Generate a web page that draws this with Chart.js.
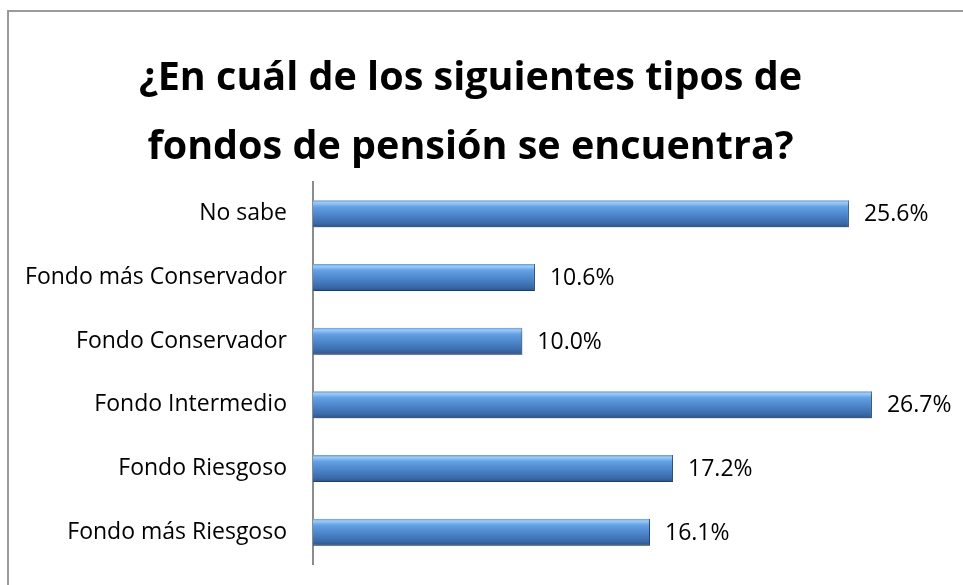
<!DOCTYPE html>
<html>
<head>
<meta charset="utf-8">
<script src="https://cdn.jsdelivr.net/npm/chart.js@4.4.1/dist/chart.umd.min.js"></script>
<style>
  html, body { margin: 0; background: #fff; overflow: hidden; }
  #wrap { position: absolute; left: 0; top: 0; width: 963px; height: 585px; }
  #frame { position: absolute; left: 7px; top: 10px; width: 1100px; height: 700px;
           border-left: 2px solid #9a9a9a; border-top: 2px solid #9a9a9a; }
</style>
</head>
<body>
<div id="frame"></div>
<div id="wrap"><canvas id="chart" width="963" height="585"></canvas></div>
<script>
// chart data
var categories = ['No sabe', 'Fondo más Conservador', 'Fondo Conservador', 'Fondo Intermedio', 'Fondo Riesgoso', 'Fondo más Riesgoso'];
var percentValues = [25.6, 10.6, 10.0, 26.7, 17.2, 16.1];
var titleLines = ['¿En cuál de los siguientes tipos de', 'fondos de pensión se encuentra?'];

var FONT = '"Open Sans", Lato, sans-serif';

// vertical gradient per bar, built from the y scale
function barFill(c) {
    var chart = c.chart;
    var ys = chart.scales.y;
    if (!ys || c.dataIndex == null) return '#4a86c8';
    var mid = ys.getPixelForValue(c.dataIndex);
    if (!isFinite(mid)) return '#4a86c8';
    var half = 14;
    var g = chart.ctx.createLinearGradient(0, mid - half, 0, mid + half);
    g.addColorStop(0, '#5490d6');
    g.addColorStop(0.1, '#9ecbf5');
    g.addColorStop(0.25, '#63a0e4');
    g.addColorStop(0.6, '#4880c4');
    g.addColorStop(0.85, '#3968a6');
    g.addColorStop(1, '#2a4d7e');
    return g;
}

// shadow under bars + value labels
var barExtras = {
    id: 'barExtras',
    beforeDatasetsDraw: function(chart) {
        var ctx = chart.ctx;
        ctx.save();
        ctx.shadowColor = 'rgba(0,0,0,0.35)';
        ctx.shadowBlur = 4;
        ctx.shadowOffsetX = 1;
        ctx.shadowOffsetY = 3;
    },
    afterDatasetsDraw: function(chart) {
        var ctx = chart.ctx;
        ctx.restore();
        ctx.save();
        ctx.font = '23px ' + FONT;
        ctx.fillStyle = '#000';
        ctx.textAlign = 'left';
        ctx.textBaseline = 'middle';
        chart.getDatasetMeta(0).data.forEach(function(bar, i) {
            ctx.fillText(percentValues[i].toFixed(1) + '%', bar.x + 15, bar.y + 1);
        });
        ctx.restore();
    }
};

var ctx = document.getElementById('chart').getContext('2d');
var chart = new Chart(ctx, {
    type: 'bar',
    data: {
        labels: categories,
        datasets: [{
            data: percentValues,
            backgroundColor: barFill,
            borderColor: '#2c5a92',
            borderWidth: { top: 0, bottom: 1, right: 1, left: 0 },
            barPercentage: 0.9,
            categoryPercentage: 0.47
        }]
    },
    plugins: [barExtras],
    options: {
        indexAxis: 'y',
        responsive: false,
        animation: false,
        layout: { padding: { left: 0, right: 22, top: 0, bottom: 21 } },
        plugins: {
            legend: { display: false },
            tooltip: { enabled: false },
            title: {
                display: true,
                text: titleLines,
                color: '#000',
                font: { family: FONT, size: 39.5, weight: 'bold', lineHeight: '69px' },
                padding: { top: 44, bottom: 0 }
            }
        },
        scales: {
            x: {
                display: false,
                min: 0,
                max: 30
            },
            y: {
                afterFit: function(s) {
                    s.width = 313;
                    s.paddingTop = 0;
                    s.paddingBottom = 0;
                },
                grid: { display: false, drawTicks: false },
                border: { display: true, color: '#8c8c8c', width: 2 },
                ticks: {
                    color: '#000',
                    padding: 26,
                    font: { family: FONT, size: 23 }
                }
            }
        }
    }
});
</script>
</body>
</html>
